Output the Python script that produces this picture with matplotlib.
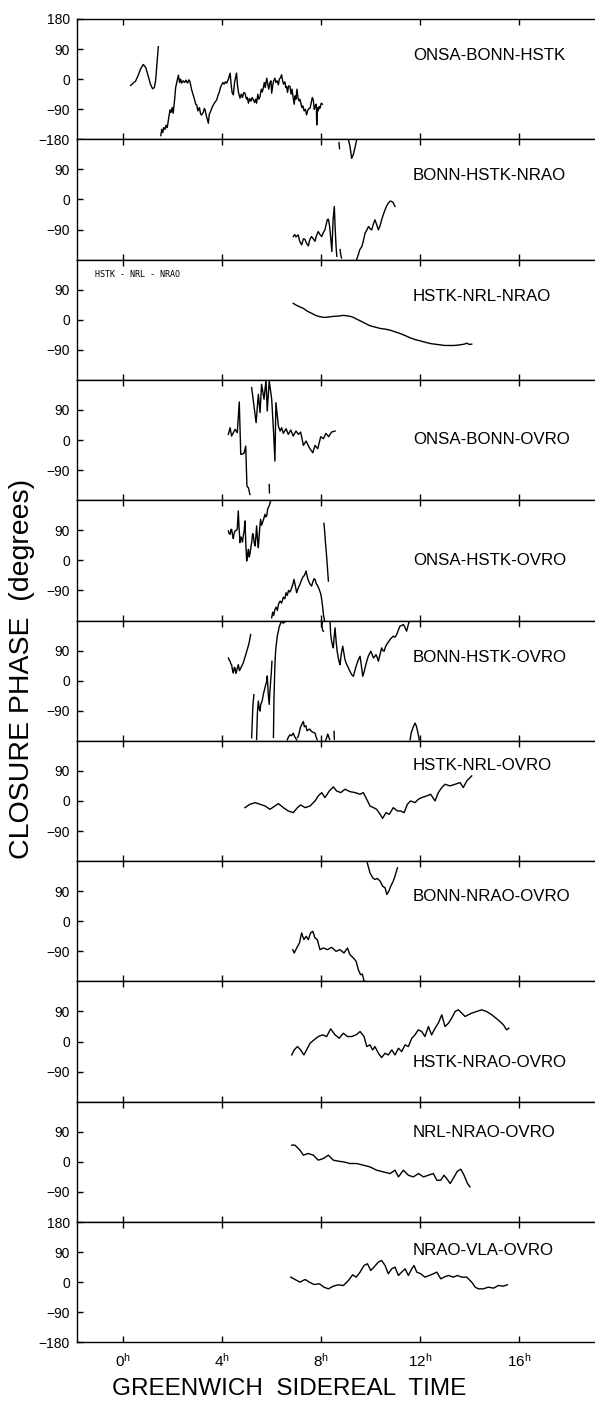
import numpy as np
import matplotlib
matplotlib.use("Agg")
import matplotlib.pyplot as plt

plt.rcParams['font.family'] = ['Liberation Sans', 'DejaVu Sans']
plt.rcParams['mathtext.fontset'] = 'custom'
plt.rcParams['mathtext.rm'] = 'Liberation Sans'
plt.rcParams['mathtext.it'] = 'Liberation Sans'

nan = np.nan

# closure phase curves, (GST hours, degrees); nan breaks the line at wraps
t_onsa_bonn_hstk = [0.32, 0.42, 0.52, 0.62, 0.72, 0.83, 0.93, 1.03, 1.12, 1.21, 1.28, 1.33, 1.38, 1.44, nan,
                    1.54, 1.58, 1.62, 1.66, 1.71, 1.75, 1.80, 1.85, 1.91, 1.95, 2.00, 2.04, 2.10, 2.14, 2.20, 2.25,
                    2.30, 2.34, 2.38, 2.44, 2.50, 2.56, 2.62, 2.68, 2.72, 2.78, 2.85, 2.90, 2.95, 2.99, 3.04, 3.10,
                    3.15, 3.19, 3.25, 3.30, 3.33, 3.38, 3.42, 3.46, 3.50, 3.56, 3.61, 3.66, 3.72, 3.80, 3.85, 3.90,
                    3.95, 4.00, 4.05, 4.10, 4.15, 4.20, 4.27, 4.34, 4.38, 4.42, 4.47, 4.52, 4.56, 4.60, 4.64, 4.68,
                    4.74, 4.79, 4.84, 4.89, 4.94, 5.00, 5.04, 5.08, 5.13, 5.18, 5.23, 5.28, 5.33, 5.37, 5.41, 5.46,
                    5.50, 5.55, 5.60, 5.64, 5.68, 5.72, 5.76, 5.82, 5.86, 5.90, 5.95, 5.99, 6.02, 6.06, 6.10, 6.15,
                    6.19, 6.24, 6.29, 6.33, 6.38, 6.42, 6.46, 6.50, 6.55, 6.59, 6.62, 6.66, 6.70, 6.76, 6.80, 6.84,
                    6.89, 6.93, 6.96, 7.00, 7.04, 7.08, 7.12, 7.16, 7.20, 7.24, 7.28, 7.33, 7.38, 7.43, 7.47, 7.52,
                    7.57, 7.62, 7.66, 7.70, 7.74, 7.78, 7.82, 7.84, 7.86, 7.90, 7.94, 7.97, 8.02, 8.07]
p_onsa_bonn_hstk = [-19, -12, -6, 10, 30, 44, 35, 10, -15, -29, -25, -5, 40, 97, nan,
                    -169, -150, -160, -145, -150, -138, -145, -120, -92, -100, -85, -102, -60, -25, -5, 12,
                    -10, 0, -12, -5, -10, -3, -12, -2, -8, -30, -47, -60, -75, -77, -95, -85,
                    -105, -107, -100, -88, -92, -110, -120, -132, -105, -95, -85, -77, -70, -62, -48, -40,
                    -25, -17, -10, -15, -8, -12, 0, 18, -15, -40, -47, -10, 5, 18, -20, -40,
                    -57, -45, -55, -40, -42, -60, -55, -72, -58, -66, -55, -62, -70, -60, -72, -45,
                    -60, -52, -30, -38, -27, -10, -25, 3, -15, -30, -10, -5, -42, -20, -5, 3,
                    -10, -5, -17, 0, 5, 13, -5, -15, -8, -25, -22, -40, -20, -22, -45, -30,
                    -57, -75, -50, -60, -30, -55, -65, -60, -72, -85, -80, -95, -90, -107, -95, -88,
                    -87, -70, -55, -62, -90, -80, -75, -137, -85, -95, -82, -87, -72, -75]

t_bonn_hstk_nrao = [8.74, 8.76, nan, 9.12, 9.18, 9.25, 9.32, 9.40, 9.45, nan,
                    6.89, 6.95, 7.00, 7.09, 7.15, 7.23, 7.30, 7.36, 7.42, 7.50, 7.56, 7.63, 7.70, 7.77, 7.83,
                    7.90, 7.97, 8.04, 8.10, 8.17, 8.22, 8.27, 8.31, 8.36, 8.41, 8.45, 8.50, 8.55, 8.58, 8.62,
                    8.65, nan, 8.78, 8.81, 8.84, nan,
                    9.45, 9.52, 9.58, 9.66, 9.72, 9.79, 9.86, 9.93, 10.00, 10.06, 10.12, 10.19, 10.26, 10.33,
                    10.40, 10.46, 10.53, 10.60, 10.66, 10.73, 10.80, 10.87, 10.93, 11.00]
p_bonn_hstk_nrao = [170, 152, nan, 178, 160, 123, 135, 160, 178, nan,
                    -111, -105, -112, -106, -125, -136, -118, -119, -130, -139, -120, -111, -118, -125, -108,
                    -96, -105, -111, -100, -91, -75, -60, -59, -80, -120, -156, -60, -21, -80, -140,
                    -170, nan, -150, -165, -175, nan,
                    -180, -165, -150, -141, -125, -101, -92, -81, -88, -91, -75, -61, -75, -91,
                    -78, -61, -45, -31, -20, -11, -5, -6, -10, -21]

t_hstk_nrl_nrao = [6.89, 7.05, 7.30, 7.45, 7.64, 7.80, 7.97, 8.15, 8.31, 8.50, 8.71, 8.90, 9.05, 9.20, 9.32,
                   9.45, 9.59, 9.80, 9.99, 10.2, 10.4, 10.6, 10.8, 11.0, 11.2, 11.4, 11.61, 11.8, 12.01, 12.2,
                   12.42, 12.6, 12.82, 13.0, 13.22, 13.4, 13.63, 13.8, 13.9, 14.0, 14.1]
p_hstk_nrl_nrao = [49, 42, 34, 26, 19, 13, 9, 7, 8, 10, 11, 13, 12, 10, 7,
                   2, -3, -11, -18, -22, -26, -28, -31, -36, -41, -47, -54, -59, -63, -67,
                   -71, -73, -75, -77, -77, -77, -75, -73, -70, -74, -73]

t_onsa_bonn_ovro = [4.27, 4.34, 4.40, 4.54, 4.63, 4.71, 4.77, 4.90, 4.97, 5.02, 5.08, 5.14, nan,
                    5.21, 5.39, 5.48, 5.55, 5.61, 5.71, 5.79, 5.84, 5.92, 6.02, 6.10, 6.15, 6.19, 6.29,
                    6.36, 6.42, 6.49, 6.60, 6.69, 6.79, 6.89, 7.00, 7.10, 7.19, 7.30, 7.41, 7.54, 7.68,
                    7.77, 7.88, 8.00, 8.11, 8.21, 8.32, 8.44, 8.58, nan, 5.92, 5.93]
p_onsa_bonn_ovro = [17, 37, 12, 32, 22, 114, -43, -40, -18, -138, -143, -163, nan,
                    157, 52, 137, 82, 167, 122, 180, 87, 177, 122, 17, -63, 112, 42,
                    27, 37, 20, 34, 17, 30, 12, 27, 17, 24, -16, -3, -23, -38,
                    -16, -26, 10, 4, 20, 10, 24, 27, nan, -133, -158]

t_onsa_hstk_ovro = [4.27, 4.30, 4.34, 4.37, 4.40, 4.44, 4.47, 4.50, 4.54, 4.60, 4.63, 4.67, 4.70, 4.74, 4.78,
                    4.81, 4.84, 4.87, 4.91, 4.94, 4.98, 5.01, 5.05, 5.08, 5.11, 5.14, 5.18, 5.21, 5.25, 5.28,
                    5.32, 5.35, 5.38, 5.41, 5.45, 5.48, 5.53, 5.57, 5.61, 5.65, 5.70, 5.75, 5.78, 5.82, 5.85,
                    5.88, 5.93, 5.98, nan,
                    6.02, 6.06, 6.10, 6.15, 6.20, 6.25, 6.30, 6.36, 6.42, 6.49, 6.55, 6.60, 6.65, 6.70, 6.76,
                    6.83, 6.88, 6.92, 6.97, 7.03, 7.08, 7.12, 7.16, 7.22, 7.28, 7.34, 7.41, 7.46, 7.50, 7.56,
                    7.63, 7.68, 7.73, 7.77, 7.82, 7.87, 7.94, 8.00, 8.04, 8.08, 8.11, 8.15, nan,
                    8.13, 8.16, 8.19, 8.23, 8.27, 8.31]
p_onsa_hstk_ovro = [88, 80, 78, 92, 93, 75, 65, 80, 88, 90, 95, 148, 100, 53, 70,
                    63, 55, 73, 90, 118, 40, -2, 20, 33, 10, 18, 40, 53, 80, 73,
                    50, 43, 70, 103, 60, 38, 90, 123, 105, 113, 125, 138, 130, 133, 150,
                    158, 165, 180, nan,
                    -172, -155, -165, -147, -140, -150, -130, -122, -128, -110, -115, -97, -105, -90, -95,
                    -82, -70, -57, -75, -97, -85, -78, -72, -60, -50, -45, -32, -50, -60, -70,
                    -77, -65, -55, -57, -70, -75, -87, -100, -117, -140, -162, -180, nan,
                    111, 85, 55, 20, -20, -62]

t_bonn_hstk_ovro = [4.27, 4.30, 4.34, 4.37, 4.40, 4.44, 4.47, 4.51, 4.54, 4.57, 4.60, 4.64, 4.67, 4.72, 4.77,
                    4.82, 4.87, 4.92, 4.96, 5.01, 5.08, 5.12, 5.17, nan,
                    5.21, 5.24, 5.26, 5.30, nan,
                    5.41, 5.44, 5.48, 5.52, 5.55, 5.58, 5.61, 5.65, 5.68, 5.72, 5.75, 5.78, 5.81, 5.84, 5.88,
                    5.92, 5.95, 5.98, 6.01, 6.03, nan,
                    6.09, 6.11, 6.13, 6.15, 6.18, 6.22, 6.25, 6.29, 6.32, 6.36, 6.42, 6.48, 6.56, nan,
                    8.07, 8.05, 8.08, 8.11, nan,
                    8.36, 8.38, 8.40, 8.44, 8.48, 8.51, 8.54, 8.58, 8.62, 8.66, 8.71, 8.75, 8.78, 8.83, 8.89,
                    8.93, 8.98, 9.04, 9.12, 9.18, 9.25, 9.32, 9.38, 9.45, 9.52, 9.59, 9.65, 9.70, 9.75, 9.79,
                    9.85, 9.92, 10.02, 10.08, 10.13, 10.18, 10.23, 10.28, 10.33, 10.40, 10.46, 10.51, 10.56,
                    10.61, 10.66, 10.73, 10.80, 10.86, 10.93, 11.00, 11.07, 11.13, 11.20, 11.27, 11.34, 11.40,
                    11.47, 11.53, 11.58, nan,
                    6.65, 6.70, 6.76, 6.82, 6.89, 6.95, 7.03, nan,
                    7.07, 7.12, 7.18, 7.23, 7.30, 7.34, 7.40, 7.45, 7.50, 7.56, 7.63, 7.70, 7.77, 7.82, 7.86, nan,
                    8.20, 8.24, 8.28, 8.31, 8.36, nan, 8.54, 8.55, nan,
                    11.61, 11.66, 11.72, 11.76, 11.81, 11.86, 11.90, 11.94, 11.98]
p_bonn_hstk_ovro = [68, 62, 58, 50, 48, 30, 23, 40, 38, 22, 28, 40, 48, 30, 38,
                    45, 53, 65, 75, 88, 105, 118, 138, nan,
                    -171, -110, -75, -42, nan,
                    -176, -100, -61, -85, -91, -70, -66, -55, -41, -30, -20, -11, -5, 14, -40,
                    -71, -30, -1, 30, 58, nan,
                    -170, -60, 0, 48, 90, 118, 135, 148, 160, 168, 178, 172, 176, nan,
                    178, 165, 150, 148, nan,
                    180, 173, 140, 118, 105, 98, 130, 158, 120, 90, 68, 55, 48, 80, 103,
                    85, 63, 50, 38, 28, 18, 13, 30, 48, 62, 73, 40, 13, 25, 38,
                    55, 73, 88, 78, 68, 72, 78, 70, 58, 80, 98, 90, 88,
                    100, 108, 115, 123, 128, 133, 130, 138, 150, 163, 165, 168, 160,
                    148, 165, 180, nan,
                    -177, -168, -162, -165, -157, -168, -177, nan,
                    -170, -160, -140, -132, -122, -138, -135, -150, -147, -145, -152, -155, -157, -170, -177, nan,
                    -178, -171, -160, -165, -176, nan, -152, -175, nan,
                    -177, -155, -142, -135, -127, -135, -147, -160, -177]

t_hstk_nrl_ovro = [4.94, 5.14, 5.35, 5.55, 5.75, 5.95, 6.15, 6.29, 6.49, 6.69, 6.89, 7.06, 7.19, 7.37, 7.57,
                   7.77, 7.90, 8.04, 8.17, 8.35, 8.51, 8.64, 8.81, 8.98, 9.18, 9.39, 9.59, 9.72, 9.86, 9.99,
                   10.13, 10.26, 10.40, 10.50, 10.64, 10.77, 10.93, 11.10, 11.23, 11.37, 11.50, 11.63, 11.81,
                   11.94, 12.08, 12.28, 12.44, 12.62, 12.75, 12.89, 13.02, 13.22, 13.43, 13.63, 13.76, 13.90,
                   14.10]
p_hstk_nrl_ovro = [-20, -10, -5, -10, -15, -25, -15, -8, -20, -30, -35, -20, -12, -20, -15,
                   0, 15, 25, 10, 30, 42, 30, 25, 35, 28, 25, 20, 25, 5, -15,
                   -20, -25, -40, -52, -35, -40, -20, -30, -30, -35, -10, 0, -5,
                   5, 10, 15, 20, 0, 25, 40, 50, 45, 50, 55, 40, 60,
                   75]

t_bonn_nrao_ovro = [9.88, 9.99, 10.10, 10.19, 10.29, 10.40, 10.50, 10.60, 10.67, 10.75, 10.83, 10.93, 11.00,
                    11.10, nan,
                    6.87, 6.93, 7.03, 7.14, 7.23, 7.32, 7.41, 7.50, 7.59, 7.68, 7.77, 7.86, 7.97, 8.11, 8.27,
                    8.44, 8.62, 8.78, 8.94, 9.08, 9.18, 9.32, 9.43, 9.52, 9.61, 9.68, 9.75, 9.80]
p_bonn_nrao_ovro = [175, 145, 130, 125, 128, 120, 105, 100, 80, 90, 105, 120, 135,
                    160, nan,
                    -85, -95, -80, -65, -35, -55, -45, -55, -35, -30, -50, -55, -85, -80, -85,
                    -78, -90, -85, -95, -80, -100, -110, -120, -145, -160, -158, -178, -180]

t_hstk_nrao_ovro = [6.83, 6.93, 7.06, 7.19, 7.32, 7.43, 7.57, 7.73, 7.90, 8.08, 8.24, 8.40, 8.58, 8.75, 8.91,
                    9.08, 9.25, 9.43, 9.59, 9.75, 9.86, 9.99, 10.10, 10.19, 10.33, 10.46, 10.60, 10.73, 10.87,
                    11.00, 11.14, 11.27, 11.41, 11.54, 11.68, 11.81, 11.94, 12.08, 12.21, 12.35, 12.48, 12.62,
                    12.75, 12.89, 13.02, 13.16, 13.29, 13.43, 13.56, 13.70, 13.83, 13.96, 14.10, 14.30, 14.50,
                    14.70, 14.91, 15.08, 15.24, 15.38, 15.51, 15.60]
p_hstk_nrao_ovro = [-40, -25, -15, -25, -40, -25, -5, 5, 15, 20, 15, 38, 20, 10, 25,
                    15, 15, 20, 30, 15, -15, -10, -25, -15, -35, -48, -35, -40, -25,
                    -40, -20, -30, -10, -15, 10, 20, 35, 30, 15, 45, 20, 40,
                    55, 80, 45, 55, 70, 90, 95, 85, 75, 80, 85, 90, 95,
                    90, 80, 70, 60, 50, 35, 40]

t_nrl_nrao_ovro = [6.83, 6.96, 7.16, 7.30, 7.50, 7.70, 7.90, 8.11, 8.31, 8.51, 8.71, 8.92, 9.18, 9.45, 9.72,
                   9.99, 10.26, 10.53, 10.80, 11.00, 11.14, 11.34, 11.54, 11.74, 11.95, 12.15, 12.35, 12.55,
                   12.69, 12.85, 12.98, 13.09, 13.23, 13.39, 13.52, 13.66, 13.79, 13.93, 14.03]
p_nrl_nrao_ovro = [50, 50, 35, 20, 25, 20, 5, 10, 20, 5, 2, 0, -5, -5, -10,
                   -15, -25, -30, -35, -25, -45, -25, -40, -45, -35, -45, -40, -35,
                   -55, -55, -40, -50, -65, -45, -28, -22, -40, -65, -75]

t_nrao_vla_ovro = [6.79, 6.96, 7.16, 7.37, 7.54, 7.73, 7.95, 8.13, 8.31, 8.51, 8.71, 8.92, 9.12, 9.29, 9.43,
                   9.59, 9.75, 9.89, 10.02, 10.15, 10.33, 10.46, 10.60, 10.73, 10.87, 11.00, 11.14, 11.27,
                   11.41, 11.54, 11.68, 11.77, 11.88, 12.04, 12.21, 12.39, 12.55, 12.69, 12.85, 12.98, 13.16,
                   13.36, 13.52, 13.70, 13.90, 14.10, 14.24, 14.37, 14.57, 14.77, 14.98, 15.18, 15.38, 15.54]
p_nrao_vla_ovro = [15, 8, 0, 8, 0, -7, -5, -15, -20, -12, -8, -10, 5, 22, 15,
                   30, 50, 55, 35, 45, 60, 65, 50, 25, 40, 45, 20, 30,
                   40, 20, 40, 50, 30, 25, 15, 20, 25, 30, 10, 15, 20,
                   15, 20, 15, 15, 0, -15, -20, -20, -15, -18, -10, -12, -8]

baselines = ['ONSA-BONN-HSTK', 'BONN-HSTK-NRAO', 'HSTK-NRL-NRAO', 'ONSA-BONN-OVRO', 'ONSA-HSTK-OVRO',
             'BONN-HSTK-OVRO', 'HSTK-NRL-OVRO', 'BONN-NRAO-OVRO', 'HSTK-NRAO-OVRO', 'NRL-NRAO-OVRO',
             'NRAO-VLA-OVRO']
label_y = [72, 72, 69, 2, 0, 70, 105, 73, -63, 89, 96]
curves = [(t_onsa_bonn_hstk, p_onsa_bonn_hstk), (t_bonn_hstk_nrao, p_bonn_hstk_nrao),
          (t_hstk_nrl_nrao, p_hstk_nrl_nrao), (t_onsa_bonn_ovro, p_onsa_bonn_ovro),
          (t_onsa_hstk_ovro, p_onsa_hstk_ovro), (t_bonn_hstk_ovro, p_bonn_hstk_ovro),
          (t_hstk_nrl_ovro, p_hstk_nrl_ovro), (t_bonn_nrao_ovro, p_bonn_nrao_ovro),
          (t_hstk_nrao_ovro, p_hstk_nrao_ovro), (t_nrl_nrao_ovro, p_nrl_nrao_ovro),
          (t_nrao_vla_ovro, p_nrao_vla_ovro)]
gst_ticks = [0, 4, 8, 12, 16]

W, H = 595, 1405
fig = plt.figure(figsize=(W / 100, H / 100), dpi=100)
left = 77 / W
panel_h = 120.3
n = len(baselines)

for i, (name, (t, p)) in enumerate(zip(baselines, curves)):
    top_px = 19 + panel_h * i
    ax = fig.add_axes([left, 1 - (top_px + panel_h) / H, 1 - left, panel_h / H])
    ax.plot(t, p, color='black', lw=1.0)
    ax.set_xlim(-1.845, 19.08)
    ax.set_ylim(-180, 180)
    ax.spines['right'].set_visible(False)
    for s in ['top', 'bottom', 'left']:
        ax.spines[s].set_linewidth(1.0)

    ax.set_xticks(gst_ticks)
    ax.set_xticklabels([rf'${g}^{{\rm h}}$' for g in gst_ticks])
    ax.tick_params(axis='x', direction='in', top=True, bottom=True, length=4, width=1,
                   labelbottom=(i == n - 1), labelsize=11, pad=7)
    if i == 0 or i == n - 1:
        ax.set_yticks([180, 90, 0, -90, -180])
    else:
        ax.set_yticks([90, 0, -90])
    ax.tick_params(axis='y', direction='in', length=4, width=1, labelsize=10, pad=5)

    ax.text(11.73, label_y[i], name, fontsize=12.2, ha='left', va='center')
    if i == 2:
        ax.text(-1.12, 134, 'HSTK - NRL - NRAO', fontsize=6, family='DejaVu Sans Mono',
                ha='left', va='center')

fig.text(22 / W, 1 - 669 / H, 'CLOSURE PHASE  (degrees)', rotation=90, fontsize=20.5,
         ha='center', va='center')
fig.text(289 / W, 1 - 1389 / H, 'GREENWICH  SIDEREAL  TIME', fontsize=17.5,
         ha='center', va='center')

fig.savefig('out.png', dpi=100)
